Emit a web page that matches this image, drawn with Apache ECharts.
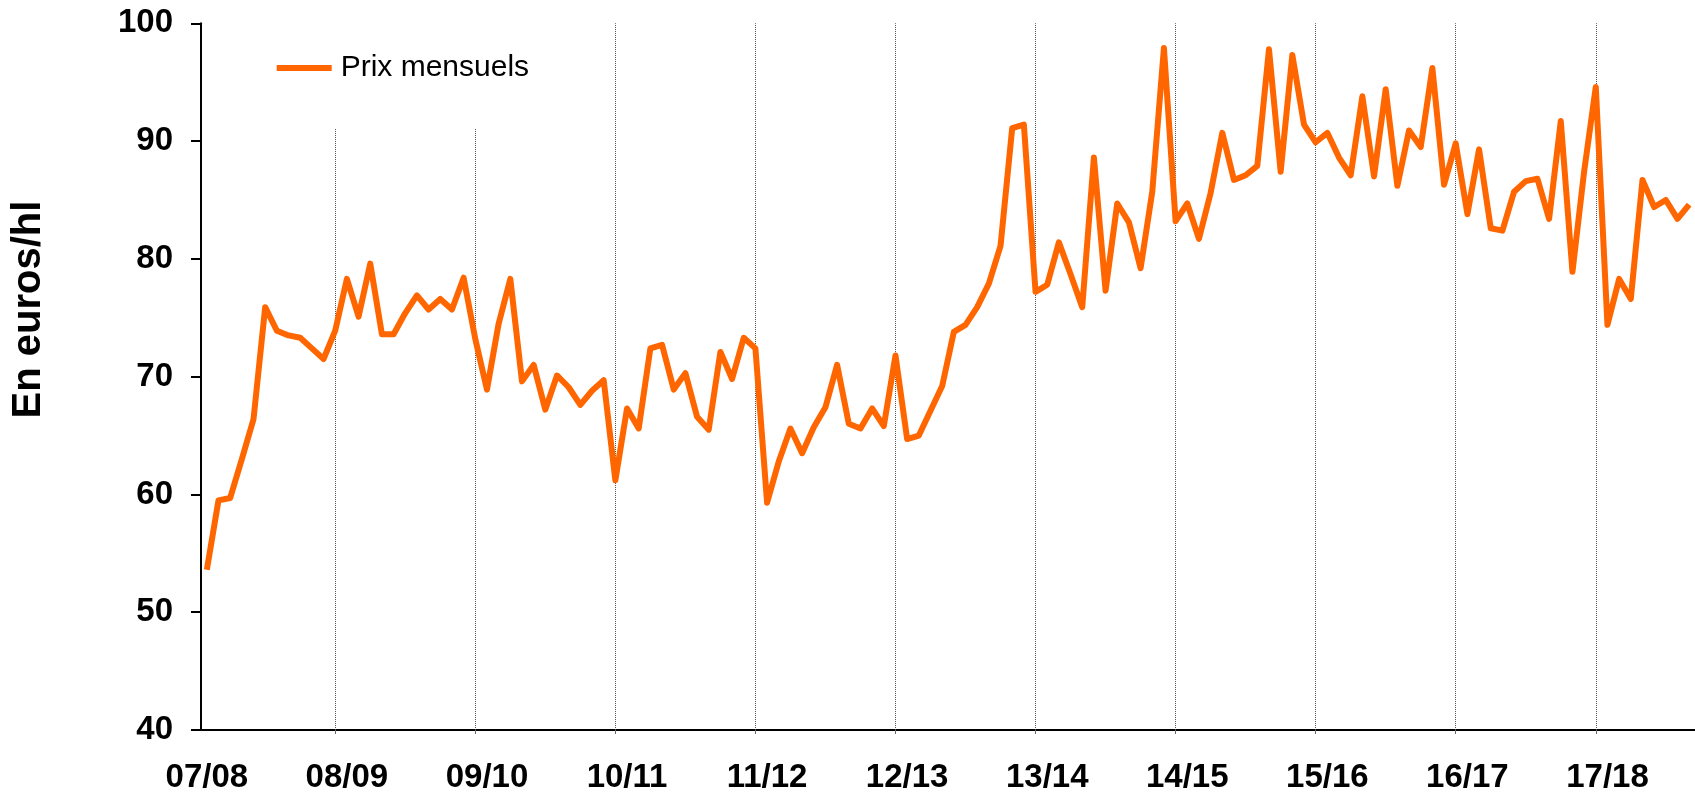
<!DOCTYPE html>
<html>
<head>
<meta charset="utf-8">
<title>Prix mensuels</title>
<script src="https://cdn.jsdelivr.net/npm/echarts@6/dist/echarts.min.js"></script>
<style>
  html, body { margin: 0; padding: 0; background: #fff; }
  #chart { width: 1695px; height: 794px; }
</style>
</head>
<body>
<div id="chart"></div>
<script>
// Campaign labels (Aug–Jul wine years)
const campaigns = ['07/08', '08/09', '09/10', '10/11', '11/12', '12/13', '13/14', '14/15', '15/16', '16/17', '17/18'];

// Monthly prices in euros/hl, August 2007 onwards
const prices = [
  53.6, 59.5, 59.7, 63.0, 66.4, 75.9, 73.9, 73.5, 73.3, 72.4, 71.5, 73.9,
  78.3, 75.1, 79.6, 73.6, 73.6, 75.4, 76.9, 75.7, 76.6, 75.7, 78.4, 73.2,
  68.9, 74.5, 78.3, 69.6, 71.0, 67.2, 70.1, 69.1, 67.6, 68.8, 69.7, 61.2,
  67.3, 65.6, 72.4, 72.7, 68.9, 70.3, 66.6, 65.5, 72.1, 69.8, 73.3, 72.4,
  59.3, 62.8, 65.6, 63.5, 65.7, 67.4, 71.0, 66.0, 65.6, 67.3, 65.8, 71.8,
  64.7, 65.0, 67.1, 69.2, 73.8, 74.4, 75.9, 77.9, 81.1, 91.1, 91.4, 77.2,
  77.8, 81.4, 78.7, 75.9, 88.6, 77.3, 84.7, 83.1, 79.2, 85.7, 97.9, 83.2,
  84.7, 81.7, 85.6, 90.7, 86.7, 87.1, 87.9, 97.8, 87.4, 97.3, 91.4, 89.9,
  90.7, 88.6, 87.1, 93.8, 87.0, 94.4, 86.2, 90.9, 89.5, 96.2, 86.3, 89.8,
  83.8, 89.3, 82.6, 82.4, 85.7, 86.6, 86.8, 83.4, 91.7, 78.9, 87.4, 94.6,
  74.4, 78.3, 76.6, 86.7, 84.4, 85.0, 83.4, 84.6
];

const yTicks = { min: 40, max: 100, step: 10 };
const seriesName = 'Prix mensuels';
const yTitle = 'En euros/hl';

// Month keys: one category per price, starting August 2007
const months = prices.map(function (_, i) {
  const m = 7 + i;                       // 0-based month offset from Jan 2007
  const y = 2007 + Math.floor(m / 12);
  const mm = (m % 12) + 1;
  return y + '-' + (mm < 10 ? '0' + mm : mm);
});

// Campaign label shown on the first month (August) of each campaign
function campaignLabel(i) {
  return i % 12 === 0 ? campaigns[i / 12] : '';
}

// Dotted separators on the last month (July) of each campaign
const separators = [];
for (let i = 11; i < months.length; i += 12) {
  separators.push({ xAxis: months[i] });
}

const FONT = '"Liberation Sans", Arial, sans-serif';
const CAT_W = 11.75;

const chart = echarts.init(document.getElementById('chart'), null, { renderer: 'canvas' });

chart.setOption({
  animation: false,
  backgroundColor: '#ffffff',
  grid: {
    left: 201,
    top: 23.3,
    width: CAT_W * months.length,
    bottom: 62.3,
    containLabel: false
  },
  legend: {
    show: true,
    data: [seriesName],
    left: 256.7,
    top: 0,
    padding: [52, 20, 45, 20],
    backgroundColor: '#ffffff',
    icon: 'rect',
    itemWidth: 55,
    itemHeight: 6,
    itemGap: 10,
    selectedMode: false,
    textStyle: {
      fontFamily: FONT,
      fontSize: 30,
      lineHeight: 32,
      color: '#000',
      padding: [0, 0, 0, 4]
    },
    z: 10
  },
  xAxis: {
    type: 'category',
    data: months,
    boundaryGap: true,
    axisLine: { show: true, lineStyle: { color: '#000', width: 2 } },
    axisTick: {
      show: true,
      alignWithLabel: true,
      interval: function (i) { return i % 12 === 11; },
      length: 4,
      lineStyle: { color: '#666', width: 1 }
    },
    axisLabel: {
      interval: 0,
      formatter: function (v, i) { return campaignLabel(i); },
      fontFamily: FONT,
      fontWeight: 'bold',
      fontSize: 33,
      color: '#000',
      margin: 31
    },
    splitLine: { show: false }
  },
  yAxis: {
    type: 'value',
    min: yTicks.min,
    max: yTicks.max,
    interval: yTicks.step,
    axisLine: { show: true, lineStyle: { color: '#000', width: 2 } },
    axisTick: { show: true, length: 10, inside: false, lineStyle: { color: '#000', width: 2 } },
    axisLabel: {
      fontFamily: FONT,
      fontWeight: 'bold',
      fontSize: 33,
      color: '#000',
      margin: 28
    },
    splitLine: { show: false }
  },
  graphic: [{
    type: 'text',
    x: 28.7,
    y: 309.5,
    rotation: Math.PI / 2,
    style: {
      text: yTitle,
      fontFamily: FONT,
      fontWeight: 'bold',
      fontSize: 40,
      fill: '#000',
      align: 'center',
      verticalAlign: 'middle'
    }
  }],
  series: [{
    name: seriesName,
    type: 'line',
    data: prices,
    symbol: 'none',
    smooth: false,
    lineStyle: { color: '#FF6600', width: 6, join: 'round' },
    itemStyle: { color: '#FF6600' },
    markLine: {
      silent: true,
      symbol: ['none', 'none'],
      label: { show: false },
      lineStyle: { color: '#555', width: 1, type: [1, 1] },
      emphasis: { disabled: true },
      data: separators,
      z: 1
    },
    z: 3
  }]
});
</script>
</body>
</html>
